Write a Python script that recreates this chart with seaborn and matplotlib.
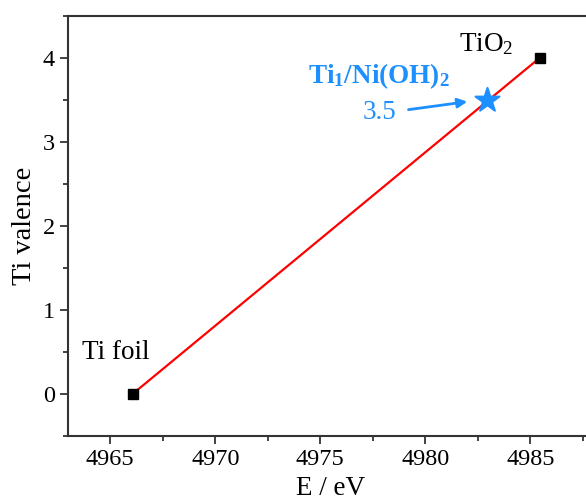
import matplotlib
matplotlib.use("Agg")
import matplotlib.pyplot as plt
import seaborn as sns
import pandas as pd
from matplotlib.ticker import MultipleLocator

# Data
ref_names = ["Ti foil", "TiO$_2$"]
ref_energy = [4966.06, 4985.44]
ref_valence = [0.0, 4.0]
sample_name = "Ti$_1$/Ni(OH)$_2$"
sample_energy = [4982.93]
sample_valence = [3.5]
sample_label = "3.5"

sns.set_theme(style="ticks")
serif_name = "Liberation Serif"
plt.rcParams["font.family"] = [serif_name, "DejaVu Serif"]
plt.rcParams["mathtext.fontset"] = "custom"
plt.rcParams["mathtext.rm"] = serif_name
plt.rcParams["mathtext.bf"] = serif_name + ":bold"
plt.rcParams["mathtext.default"] = "regular"
plt.rcParams["text.color"] = "black"
plt.rcParams["axes.labelcolor"] = "black"

fig = plt.figure(figsize=(5.86, 5.04), dpi=100)
ax = fig.add_axes([68.3 / 586, 68 / 504, 525 / 586, 420 / 504])

ref_df = pd.DataFrame({"E": ref_energy, "V": ref_valence})
sns.lineplot(data=ref_df, x="E", y="V", ax=ax, color="#ff0000", lw=1.6, zorder=3)
ax.plot(ref_energy, ref_valence, ls="none", marker="s", ms=7, color="black", zorder=4)

blue = "#1e8fff"
sns.scatterplot(x=sample_energy, y=sample_valence, ax=ax, marker="*", s=330,
                color=blue, edgecolor=blue, zorder=5)

ax.set_xlim(4963, 4988)
ax.set_ylim(-0.5, 4.5)
ax.xaxis.set_major_locator(MultipleLocator(5))
ax.xaxis.set_minor_locator(MultipleLocator(2.5))
ax.yaxis.set_major_locator(MultipleLocator(1))
ax.yaxis.set_minor_locator(MultipleLocator(0.5))
ax.tick_params(which="major", direction="out", length=6, width=1.2, labelsize=17.5,
               colors="#222222", labelcolor="black")
ax.tick_params(which="minor", direction="out", length=3.5, width=1.2, colors="#222222")

for s in ax.spines.values():
    s.set_color("#333333")
    s.set_linewidth(1.5)

ax.set_xlabel("E / eV", fontsize=19.5, labelpad=4)
ax.set_ylabel("Ti valence", fontsize=20.5, labelpad=4)

ax.text(4965.28, 0.49, ref_names[0], fontsize=19.5, ha="center", va="center")
ax.text(4982.9, 4.17, ref_names[1], fontsize=19.5, ha="center", va="center")
ax.text(4977.78, 3.78, sample_name, fontsize=19.5, ha="center", va="center",
        color=blue, fontweight="bold")
ax.text(4977.82, 3.35, sample_label, fontsize=19.5, ha="center", va="center", color=blue)
ax.annotate("", xy=(4982.0, 3.48), xytext=(4979.2, 3.385),
            arrowprops=dict(arrowstyle="-|>", color=blue, lw=2, mutation_scale=14,
                            shrinkA=0, shrinkB=0))

fig.savefig("out.png", dpi=100)
